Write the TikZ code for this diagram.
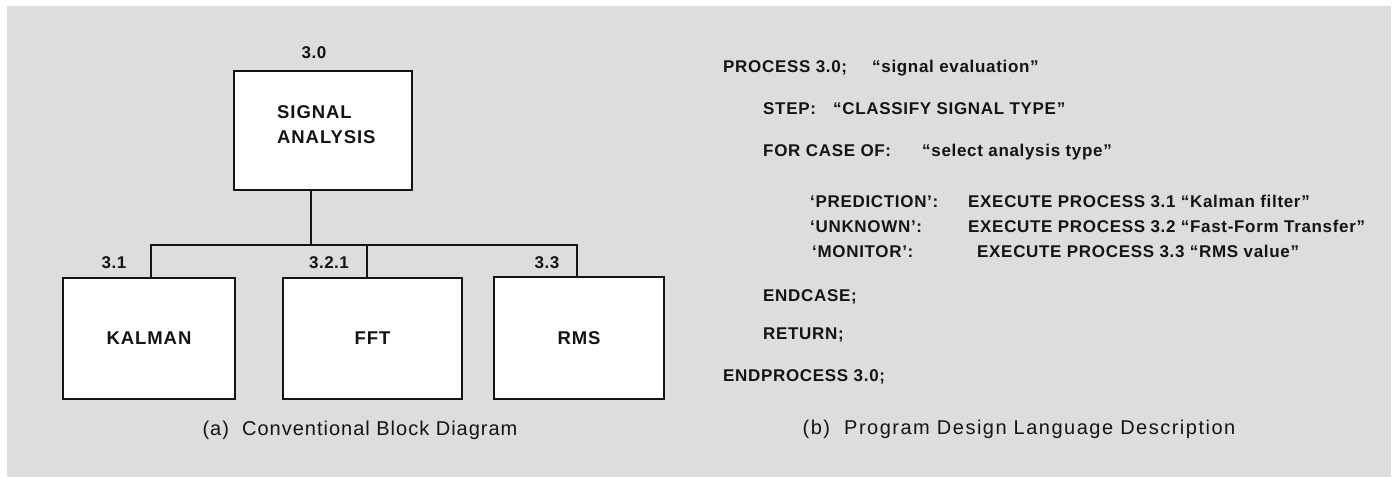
\documentclass[tikz,border=0pt]{standalone}
\usepackage{fontspec}
\setmainfont{Liberation Sans}
\definecolor{bggray}{RGB}{221,221,219}
\definecolor{ink}{RGB}{20,20,20}
\newcommand\boxfont{\fontsize{18.5}{25}\selectfont\bfseries\addfontfeature{LetterSpace=5}}
\newcommand\numfont{\fontsize{17}{20}\selectfont\bfseries\addfontfeature{LetterSpace=3}}
\newcommand\pdlfont{\fontsize{17}{20}\selectfont\bfseries\addfontfeature{LetterSpace=4}}
\newcommand\capfont{\fontsize{20}{24}\selectfont\addfontfeature{LetterSpace=5}}
\newcommand\capwidefont{\fontsize{20}{24}\selectfont\addfontfeature{LetterSpace=7.5}}
\begin{document}
\begin{tikzpicture}[x=1pt,y=-1pt,
  blockbox/.style={draw=ink,line width=2pt,fill=white,inner sep=0pt,font=\boxfont,text=ink},
  numlab/.style={font=\numfont,inner sep=0pt,anchor=base,text=ink},
  pdl/.style={font=\pdlfont,inner sep=0pt,anchor=base west,text=ink},
  captxt/.style={font=\capfont,inner sep=0pt,anchor=base,text=ink},
  conn/.style={draw=ink,line width=1.8pt,line join=miter}]
\useasboundingbox (0,0) rectangle (1398,477);
\fill[white] (0,0) rectangle (1398,477);
\fill[bggray] (7,6) rectangle (1391,477);

% (a) block diagram
\node[blockbox,minimum width=178pt,minimum height=119pt] (top) at (323,130.5) {};
\node[font=\boxfont,inner sep=0pt,anchor=west,align=left,text=ink] (toptxt) at (277,125) {SIGNAL\\ANALYSIS};
\node[numlab] (n30) at (314,58) {3.0};

\node[blockbox,minimum width=172pt,minimum height=121pt] (kal) at (149,338.5) {KALMAN};
\node[blockbox,minimum width=179pt,minimum height=121pt] (fft) at (372.5,338.5) {FFT};
\node[blockbox,minimum width=170pt,minimum height=122pt] (rms) at (579,338) {RMS};

\node[numlab] (n31) at (114,268) {3.1};
\node[numlab] (n321) at (329,268) {3.2.1};
\node[numlab] (n33) at (547,268) {3.3};

\coordinate (b0) at (311,245);
\coordinate (b1) at (151,245);
\coordinate (b2) at (367,245);
\coordinate (b3) at (577,245);
\draw[conn] (top.south -| b0) -- (b0);
\draw[conn] (b1 |- kal.north) -- (b1) -- (b3) -- (b3 |- rms.north);
\draw[conn] (b2) -- (b2 |- fft.north);

\node[captxt] (capa) at (360,435) {(a)\ \ Conventional Block Diagram};

% (b) PDL description
\node[pdl] (l1a) at (723,72.7) {PROCESS 3.0;};
\node[pdl] (l1b) at (872,72.7) {“signal evaluation”};
\node[pdl] (l2a) at (763,114) {STEP:};
\node[pdl] (l2b) at (833,114) {“CLASSIFY SIGNAL TYPE”};
\node[pdl] (l3a) at (763,156) {FOR CASE OF:};
\node[pdl] (l3b) at (922,156) {“select analysis type”};
\node[pdl] (l4a) at (810,207.5) {‘PREDICTION’:};
\node[pdl] (l4b) at (968,207.5) {EXECUTE PROCESS 3.1 “Kalman filter”};
\node[pdl] (l5a) at (810,232.5) {‘UNKNOWN’:};
\node[pdl] (l5b) at (968,232.5) {EXECUTE PROCESS 3.2 “Fast-Form Transfer”};
\node[pdl] (l6a) at (812,257.5) {‘MONITOR’:};
\node[pdl] (l6b) at (977,257.5) {EXECUTE PROCESS 3.3 “RMS value”};
\node[pdl] (l7) at (763,301) {ENDCASE;};
\node[pdl] (l8) at (763,339) {RETURN;};
\node[pdl] (l9) at (723,381) {ENDPROCESS 3.0;};

\node[captxt,font=\capwidefont] (capb) at (1019,434) {(b)\ \ Program Design Language Description};
\end{tikzpicture}
\end{document}
